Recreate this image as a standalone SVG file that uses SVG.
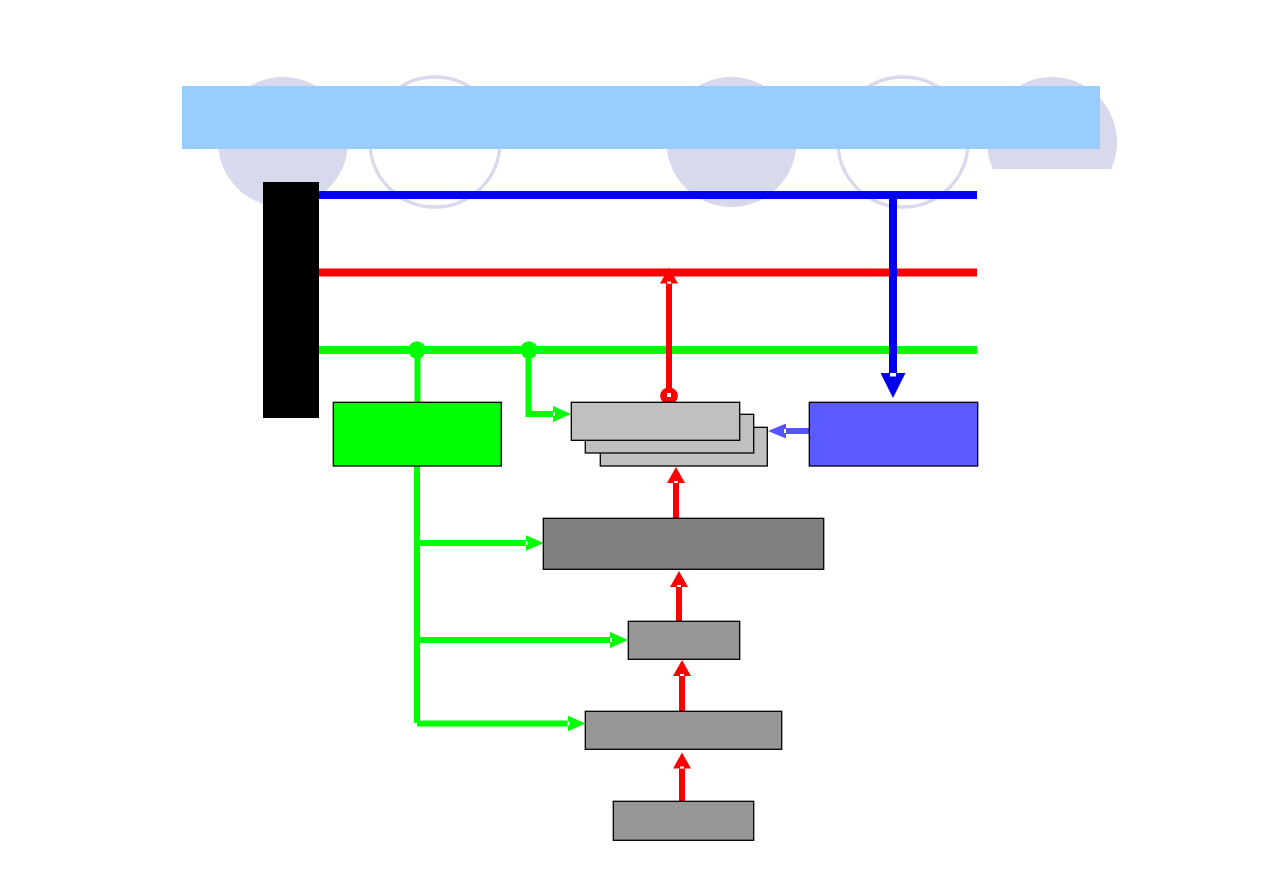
<svg xmlns="http://www.w3.org/2000/svg" width="1263" height="893" viewBox="0 0 1263 893">
<style>
.deco{fill:#D9D9EE}
.ring{fill:none;stroke:#D9D9EE;stroke-width:3.3}
.box{stroke:#000;stroke-width:1.3}
.bus{fill:none;stroke-width:8}
.red{stroke:#FF0000}
.grn{stroke:#00FF00}
.blu{stroke:#0000EE}
.w6{fill:none;stroke-width:6}
</style>
<defs>
<clipPath id="clip5"><rect x="980" y="70" width="150" height="99"/></clipPath>
<marker id="aR" viewBox="0 -9 16 18" refX="0" refY="0" markerWidth="16" markerHeight="18" markerUnits="userSpaceOnUse" orient="auto">
<path d="M0,-9 L16,0 L0,9 z" fill="#FF0000"/><rect x="0" y="-2" width="2" height="4" fill="#fff"/>
</marker>
<marker id="aG" viewBox="0 -8 18 16" refX="0" refY="0" markerWidth="18" markerHeight="16" markerUnits="userSpaceOnUse" orient="auto">
<path d="M0,-8 L18,0 L0,8 z" fill="#00FF00"/><rect x="0" y="-2" width="2" height="4" fill="#fff"/>
</marker>
<marker id="aB" viewBox="0 -7.5 18 15" refX="0" refY="0" markerWidth="18" markerHeight="15" markerUnits="userSpaceOnUse" orient="auto">
<path d="M0,-7.5 L18,0 L0,7.5 z" fill="#5555FF"/><rect x="0" y="-2" width="2" height="4" fill="#fff"/>
</marker>
<marker id="aBig" viewBox="0 -12.5 25 25" refX="0" refY="0" markerWidth="25" markerHeight="25" markerUnits="userSpaceOnUse" orient="auto">
<path d="M0,-12.5 L25,0 L0,12.5 z" fill="#0000EE"/><rect x="0" y="-3" width="3.5" height="6" fill="#fff"/>
</marker>
</defs>

<g id="background">
<circle class="deco" cx="283" cy="142" r="65"/>
<circle class="ring" cx="435" cy="142" r="65"/>
<circle class="deco" cx="731.5" cy="142" r="65"/>
<circle class="ring" cx="903" cy="142" r="65"/>
<circle class="deco" cx="1052" cy="142" r="65" clip-path="url(#clip5)"/>
<rect x="182" y="86" width="918" height="63" fill="#99CCFF"/>
</g>

<g id="connectors">
<line class="bus" x1="319" y1="195" x2="977" y2="195" stroke="#0000FF"/>
<line class="bus red" x1="319" y1="272.5" x2="977" y2="272.5"/>
<line class="bus grn" x1="319" y1="350" x2="977" y2="350"/>
<circle cx="417" cy="350" r="8.7" fill="#00FF00"/>
<circle cx="529" cy="350" r="8.7" fill="#00FF00"/>
<path class="bus blu" d="M893,195 V373" marker-end="url(#aBig)"/>
<path class="w6 grn" d="M417.5,350 V402"/>
<path class="w6 grn" stroke-width="5" d="M528.5,350 V414 H553" marker-end="url(#aG)"/>
<path class="w6 grn" stroke-width="8" d="M417,466 V723"/>
<path class="w6 grn" d="M417,543 H525.5" marker-end="url(#aG)"/>
<path class="w6 grn" d="M417,640 H610" marker-end="url(#aG)"/>
<path class="w6 grn" d="M417,723.5 H567.5" marker-end="url(#aG)"/>
<path class="w6 red" d="M669,396 V283.5" marker-end="url(#aR)"/>
<circle cx="669" cy="396" r="8.8" fill="#FF0000"/>
<rect x="667" y="393" width="4" height="4" fill="#fff"/>
<path class="w6" stroke="#5555FF" stroke-width="5" d="M809,431 H786" marker-end="url(#aB)"/>
<path class="w6 red" d="M676,518 V483" marker-end="url(#aR)"/>
<path class="w6 red" d="M679,621 V587" marker-end="url(#aR)"/>
<path class="w6 red" d="M682,711 V676" marker-end="url(#aR)"/>
<path class="w6 red" d="M682,801 V768.5" marker-end="url(#aR)"/>
</g>

<g id="node-black"><rect x="263" y="182" width="56" height="236" fill="#000"/></g>
<g id="node-green"><rect class="box" x="333.3" y="402.3" width="168" height="63.7" fill="#00FF00"/></g>
<g id="node-stack">
<rect class="box" x="600.3" y="427.3" width="167" height="38.7" fill="#C0C0C0"/>
<rect class="box" x="585.3" y="414.3" width="168.4" height="38.7" fill="#C0C0C0"/>
<rect class="box" x="571.3" y="402.3" width="168.4" height="38" fill="#C0C0C0"/>
</g>
<g id="node-blue"><rect class="box" x="809.3" y="402.3" width="168.4" height="63.7" fill="#5A5AFF"/></g>
<g id="node-dark"><rect class="box" x="543.3" y="518.3" width="280.4" height="51" fill="#808080"/></g>
<g id="node-b2"><rect class="box" x="628.3" y="621.3" width="111.4" height="38" fill="#969696"/></g>
<g id="node-b3"><rect class="box" x="585.3" y="711.3" width="196.4" height="38" fill="#969696"/></g>
<g id="node-b4"><rect class="box" x="613.3" y="801.3" width="140.4" height="39" fill="#969696"/></g>
</svg>
